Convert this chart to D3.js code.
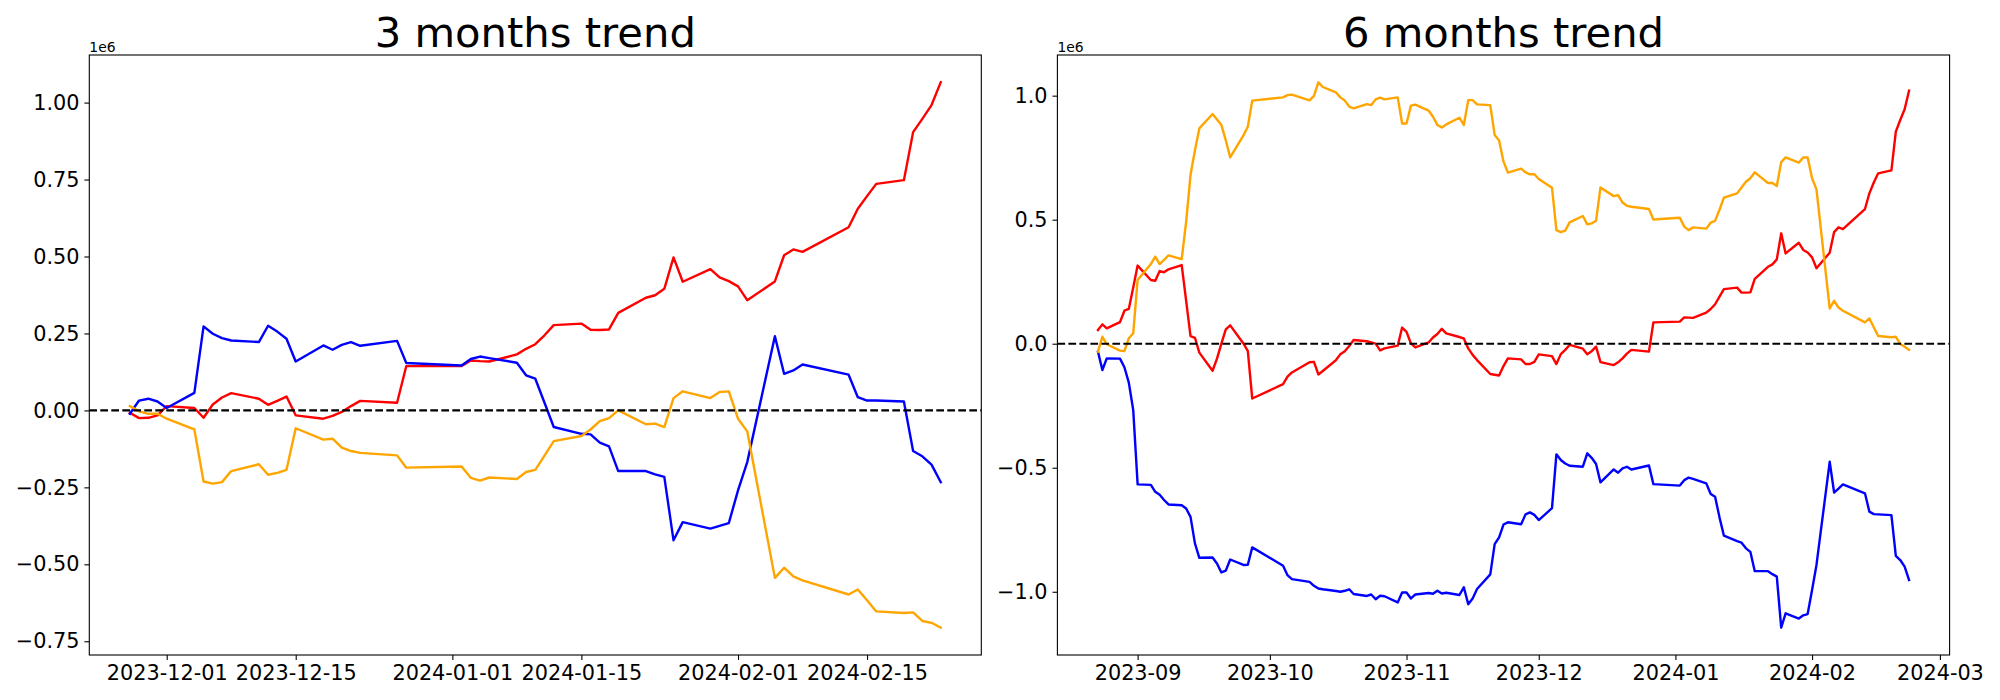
<!DOCTYPE html>
<html>
<head>
<meta charset="utf-8">
<script src="https://cdn.jsdelivr.net/npm/d3@7"></script>
<style>
  body { margin: 0; background: #fff; }
  svg { display: block; }
</style>
</head>
<body>
<script>
// values are in millions (axis offset "1e6")

var dates3 = [
  "2023-11-27","2023-11-28","2023-11-29","2023-11-30",
  "2023-12-01","2023-12-04","2023-12-05","2023-12-06","2023-12-07","2023-12-08","2023-12-11","2023-12-12","2023-12-13","2023-12-14","2023-12-15","2023-12-18","2023-12-19","2023-12-20","2023-12-21","2023-12-22","2023-12-26","2023-12-27",
  "2024-01-02","2024-01-03","2024-01-04","2024-01-05","2024-01-08","2024-01-09","2024-01-10","2024-01-11","2024-01-12","2024-01-15","2024-01-16","2024-01-17","2024-01-18","2024-01-19","2024-01-22","2024-01-23","2024-01-24","2024-01-25","2024-01-26","2024-01-29","2024-01-30","2024-01-31",
  "2024-02-01","2024-02-02","2024-02-05","2024-02-06","2024-02-07","2024-02-08","2024-02-13","2024-02-14","2024-02-15","2024-02-16","2024-02-19","2024-02-20","2024-02-21","2024-02-22","2024-02-23"
];

var red3 = [
  -0.008, -0.025, -0.024, -0.016,
  0.014, 0.008, -0.024, 0.019, 0.042, 0.056, 0.038, 0.018, 0.031, 0.045, -0.016, -0.027, -0.018, -0.005, 0.014, 0.031, 0.025, 0.144,
  0.144, 0.162, 0.160, 0.159, 0.182, 0.200, 0.215, 0.244, 0.277, 0.282, 0.262, 0.261, 0.263, 0.317, 0.366, 0.374, 0.395, 0.497, 0.418, 0.459, 0.432, 0.420,
  0.403, 0.358, 0.419, 0.504, 0.523, 0.515, 0.595, 0.655, 0.696, 0.736, 0.748, 0.904, 0.947, 0.992, 1.066
];

var blue3 = [
  -0.011, 0.032, 0.038, 0.029,
  0.008, 0.057, 0.273, 0.249, 0.235, 0.227, 0.222, 0.275, 0.256, 0.233, 0.159, 0.211, 0.197, 0.213, 0.222, 0.210, 0.226, 0.154,
  0.146, 0.167, 0.175, 0.170, 0.155, 0.114, 0.103, 0.025, -0.054, -0.076, -0.078, -0.105, -0.117, -0.197, -0.197, -0.208, -0.216, -0.422, -0.363, -0.384, -0.375, -0.366,
  -0.260, -0.168, 0.241, 0.119, 0.130, 0.149, 0.116, 0.043, 0.032, 0.032, 0.029, -0.132, -0.149, -0.176, -0.233
];

var orange3 = [
  0.014, -0.003, -0.011, -0.011,
  -0.027, -0.062, -0.231, -0.238, -0.233, -0.197, -0.175, -0.209, -0.203, -0.193, -0.058, -0.095, -0.092, -0.121, -0.132, -0.138, -0.146, -0.186,
  -0.182, -0.219, -0.228, -0.218, -0.223, -0.200, -0.193, -0.147, -0.100, -0.083, -0.062, -0.035, -0.025, 0.000, -0.045, -0.043, -0.054, 0.040, 0.062, 0.040, 0.060, 0.062,
  -0.027, -0.068, -0.544, -0.511, -0.539, -0.552, -0.598, -0.582, -0.617, -0.653, -0.658, -0.656, -0.684, -0.690, -0.706
];

var dates6 = [
  "2023-08-23","2023-08-24","2023-08-25","2023-08-28","2023-08-29","2023-08-30","2023-08-31",
  "2023-09-01","2023-09-04","2023-09-05","2023-09-06","2023-09-07","2023-09-08","2023-09-11","2023-09-12","2023-09-13","2023-09-14","2023-09-15","2023-09-18","2023-09-19","2023-09-20","2023-09-21","2023-09-22","2023-09-25","2023-09-26","2023-09-27",
  "2023-10-04","2023-10-05","2023-10-06","2023-10-10","2023-10-11","2023-10-12","2023-10-13","2023-10-16","2023-10-17","2023-10-18","2023-10-19","2023-10-20","2023-10-23","2023-10-24","2023-10-25","2023-10-26","2023-10-27","2023-10-30","2023-10-31",
  "2023-11-01","2023-11-02","2023-11-03","2023-11-06","2023-11-07","2023-11-08","2023-11-09","2023-11-10","2023-11-13","2023-11-14","2023-11-15","2023-11-16","2023-11-17","2023-11-20","2023-11-21","2023-11-22","2023-11-23","2023-11-24","2023-11-27","2023-11-28","2023-11-29","2023-11-30",
  "2023-12-01","2023-12-04","2023-12-05","2023-12-06","2023-12-07","2023-12-08","2023-12-11","2023-12-12","2023-12-13","2023-12-14","2023-12-15","2023-12-18","2023-12-19","2023-12-20","2023-12-21","2023-12-22","2023-12-26","2023-12-27",
  "2024-01-02","2024-01-03","2024-01-04","2024-01-05","2024-01-08","2024-01-09","2024-01-10","2024-01-11","2024-01-12","2024-01-15","2024-01-16","2024-01-17","2024-01-18","2024-01-19","2024-01-22","2024-01-23","2024-01-24","2024-01-25","2024-01-26","2024-01-29","2024-01-30","2024-01-31",
  "2024-02-01","2024-02-02","2024-02-05","2024-02-06","2024-02-07","2024-02-08","2024-02-13","2024-02-14","2024-02-15","2024-02-16","2024-02-19","2024-02-20","2024-02-21","2024-02-22","2024-02-23"
];

var red6 = [
  0.055, 0.078, 0.062, 0.087, 0.133, 0.140, 0.227,
  0.315, 0.257, 0.254, 0.293, 0.288, 0.300, 0.317, 0.174, 0.031, 0.024, -0.036, -0.109, -0.060, 0.000, 0.058, 0.074, 0.001, -0.030, -0.221,
  -0.163, -0.133, -0.116, -0.075, -0.073, -0.124, -0.110, -0.066, -0.042, -0.030, -0.009, 0.015, 0.010, 0.005, 0.000, -0.027, -0.019, -0.008, 0.065,
  0.048, 0.001, -0.015, 0.005, 0.025, 0.039, 0.060, 0.042, 0.027, 0.021, -0.019, -0.045, -0.066, -0.122, -0.125, -0.128, -0.090, -0.059, -0.063, -0.082, -0.082, -0.073,
  -0.043, -0.050, -0.082, -0.042, -0.025, -0.005, -0.020, -0.042, -0.030, -0.012, -0.074, -0.086, -0.075, -0.059, -0.040, -0.025, -0.032, 0.086,
  0.089, 0.106, 0.105, 0.104, 0.125, 0.140, 0.159, 0.190, 0.220, 0.226, 0.206, 0.206, 0.207, 0.261, 0.310, 0.320, 0.340, 0.445, 0.364, 0.407, 0.378, 0.368,
  0.348, 0.304, 0.367, 0.450, 0.469, 0.462, 0.543, 0.606, 0.650, 0.687, 0.699, 0.855, 0.902, 0.945, 1.020
];

var blue6 = [
  -0.032, -0.106, -0.059, -0.060, -0.095, -0.157, -0.267,
  -0.567, -0.569, -0.597, -0.609, -0.630, -0.648, -0.651, -0.664, -0.698, -0.805, -0.863, -0.862, -0.886, -0.922, -0.915, -0.870, -0.892, -0.891, -0.821,
  -0.895, -0.933, -0.949, -0.960, -0.976, -0.987, -0.990, -0.997, -1.000, -0.996, -0.990, -1.009, -1.017, -1.011, -1.030, -1.016, -1.018, -1.043, -1.003,
  -1.003, -1.027, -1.011, -1.005, -1.008, -0.996, -1.007, -1.004, -1.013, -0.982, -1.050, -1.027, -0.989, -0.930, -0.808, -0.781, -0.729, -0.720, -0.728, -0.688, -0.680, -0.690,
  -0.711, -0.663, -0.446, -0.469, -0.483, -0.492, -0.496, -0.442, -0.460, -0.485, -0.559, -0.507, -0.520, -0.503, -0.496, -0.507, -0.491, -0.566,
  -0.572, -0.550, -0.540, -0.545, -0.563, -0.606, -0.617, -0.700, -0.774, -0.796, -0.802, -0.825, -0.839, -0.917, -0.917, -0.929, -0.939, -1.145, -1.087, -1.108, -1.095, -1.090,
  -0.993, -0.892, -0.476, -0.600, -0.584, -0.567, -0.603, -0.677, -0.687, -0.688, -0.691, -0.855, -0.872, -0.899, -0.953
];

var orange6 = [
  -0.032, 0.028, -0.002, -0.028, -0.030, 0.022, 0.042,
  0.257, 0.321, 0.351, 0.321, 0.338, 0.356, 0.341, 0.490, 0.680, 0.780, 0.868, 0.926, 0.904, 0.882, 0.820, 0.751, 0.840, 0.875, 0.980,
  0.993, 1.002, 1.004, 0.981, 0.999, 1.054, 1.035, 1.013, 0.993, 0.980, 0.956, 0.949, 0.966, 0.962, 0.985, 0.992, 0.985, 0.993, 0.888,
  0.888, 0.960, 0.964, 0.940, 0.915, 0.882, 0.872, 0.884, 0.911, 0.882, 0.982, 0.982, 0.965, 0.962, 0.841, 0.819, 0.734, 0.690, 0.706, 0.691, 0.683, 0.683,
  0.664, 0.629, 0.458, 0.450, 0.456, 0.489, 0.515, 0.481, 0.485, 0.496, 0.630, 0.595, 0.599, 0.569, 0.556, 0.552, 0.543, 0.501,
  0.508, 0.472, 0.458, 0.469, 0.464, 0.488, 0.495, 0.540, 0.589, 0.606, 0.630, 0.653, 0.667, 0.691, 0.648, 0.648, 0.636, 0.732, 0.751, 0.730, 0.751, 0.751,
  0.667, 0.622, 0.142, 0.173, 0.146, 0.133, 0.086, 0.102, 0.066, 0.031, 0.026, 0.028, -0.001, -0.012, -0.025
];

var xTicks3 = ["2023-12-01", "2023-12-15", "2024-01-01", "2024-01-15", "2024-02-01", "2024-02-15"];
var xTicks6 = ["2023-09-01", "2023-10-01", "2023-11-01", "2023-12-01", "2024-01-01", "2024-02-01", "2024-03-01"];
var yTicks3 = [-0.75, -0.5, -0.25, 0, 0.25, 0.5, 0.75, 1.0];
var yTicks6 = [-1.0, -0.5, 0, 0.5, 1.0];
var titles = ["3 months trend", "6 months trend"];

var screen = { width: 2000, height: 700 };
var font = "DejaVu Sans, sans-serif";
var parseDate = d3.timeParse("%Y-%m-%d");

var svg = d3.select("body")
            .append("svg")
            .attr("width", screen.width)
            .attr("height", screen.height)
            .style("background", "#fff");

var drawPanel = function(p)
{
  var days = p.dates.map(parseDate);

  // matplotlib style 5% margins on both axes
  var xExt = d3.extent(days);
  var xPad = (xExt[1] - xExt[0]) * 0.05;
  var xScale = d3.scaleTime()
                 .domain([new Date(+xExt[0] - xPad), new Date(+xExt[1] + xPad)])
                 .range([p.left, p.right]);

  var allValues = d3.merge(p.series.map(function(s) { return s.values; }));
  var yExt = d3.extent(allValues);
  var yPad = (yExt[1] - yExt[0]) * 0.05;
  var yScale = d3.scaleLinear()
                 .domain([yExt[0] - yPad, yExt[1] + yPad])
                 .range([p.bottom, p.top]);

  var g = svg.append("g").attr("class", "panel");

  // lines
  p.series.forEach(function(s) {
    var drawLine = d3.line()
                     .x(function(d, i) { return xScale(days[i]); })
                     .y(function(d) { return yScale(d); });

    g.append("path")
     .datum(s.values)
     .attr("d", drawLine)
     .attr("fill", "none")
     .attr("stroke", s.color)
     .attr("stroke-width", 2.4)
     .attr("stroke-linejoin", "round")
     .attr("stroke-linecap", "square");
  });

  // zero line
  g.append("line")
   .attr("x1", p.left)
   .attr("x2", p.right)
   .attr("y1", yScale(0))
   .attr("y2", yScale(0))
   .attr("stroke", "black")
   .attr("stroke-width", 2.1)
   .attr("stroke-dasharray", "7.7,3.3");

  // xAxis
  var xAxis = d3.axisBottom(xScale)
                .tickValues(p.xTicks.map(parseDate))
                .tickFormat(d3.timeFormat(p.xFormat))
                .tickSize(4.9)
                .tickPadding(4.9);

  g.append("g")
   .attr("class", "xAxis")
   .attr("transform", "translate(0," + p.bottom + ")")
   .call(xAxis)
   .call(function(a) { a.select(".domain").remove(); });

  // yAxis
  var yAxis = d3.axisLeft(yScale)
                .tickValues(p.yTicks)
                .tickFormat(d3.format(p.yFormat))
                .tickSize(4.9)
                .tickPadding(4.9);

  g.append("g")
   .attr("class", "yAxis")
   .attr("transform", "translate(" + p.left + ",0)")
   .call(yAxis)
   .call(function(a) { a.select(".domain").remove(); });

  g.selectAll(".tick line")
   .attr("stroke", "black")
   .attr("stroke-width", 1.1);

  g.selectAll(".tick text")
   .attr("fill", "black")
   .style("font-family", font)
   .style("font-size", "20.8px");

  // frame
  g.append("rect")
   .attr("x", p.left)
   .attr("y", p.top)
   .attr("width", p.right - p.left)
   .attr("height", p.bottom - p.top)
   .attr("fill", "none")
   .attr("stroke", "black")
   .attr("stroke-width", 1.1);

  // offset text
  g.append("text")
   .attr("x", p.left)
   .attr("y", p.top - 3.5)
   .text("1e6")
   .style("font-family", font)
   .style("font-size", "13.9px")
   .attr("fill", "black");

  // title
  g.append("text")
   .attr("x", (p.left + p.right) / 2)
   .attr("y", p.top - 8.3)
   .attr("text-anchor", "middle")
   .text(p.title)
   .style("font-family", font)
   .style("font-size", "41.7px")
   .attr("fill", "black");
}

drawPanel({
  left: 89.3, right: 981.3, top: 55, bottom: 655,
  dates: dates3,
  series: [
    { values: red3, color: "red" },
    { values: blue3, color: "blue" },
    { values: orange3, color: "orange" }
  ],
  xTicks: xTicks3, xFormat: "%Y-%m-%d",
  yTicks: yTicks3, yFormat: ".2f",
  title: titles[0]
});

drawPanel({
  left: 1057.4, right: 1949.6, top: 55, bottom: 655,
  dates: dates6,
  series: [
    { values: red6, color: "red" },
    { values: blue6, color: "blue" },
    { values: orange6, color: "orange" }
  ],
  xTicks: xTicks6, xFormat: "%Y-%m",
  yTicks: yTicks6, yFormat: ".1f",
  title: titles[1]
});
</script>
</body>
</html>
